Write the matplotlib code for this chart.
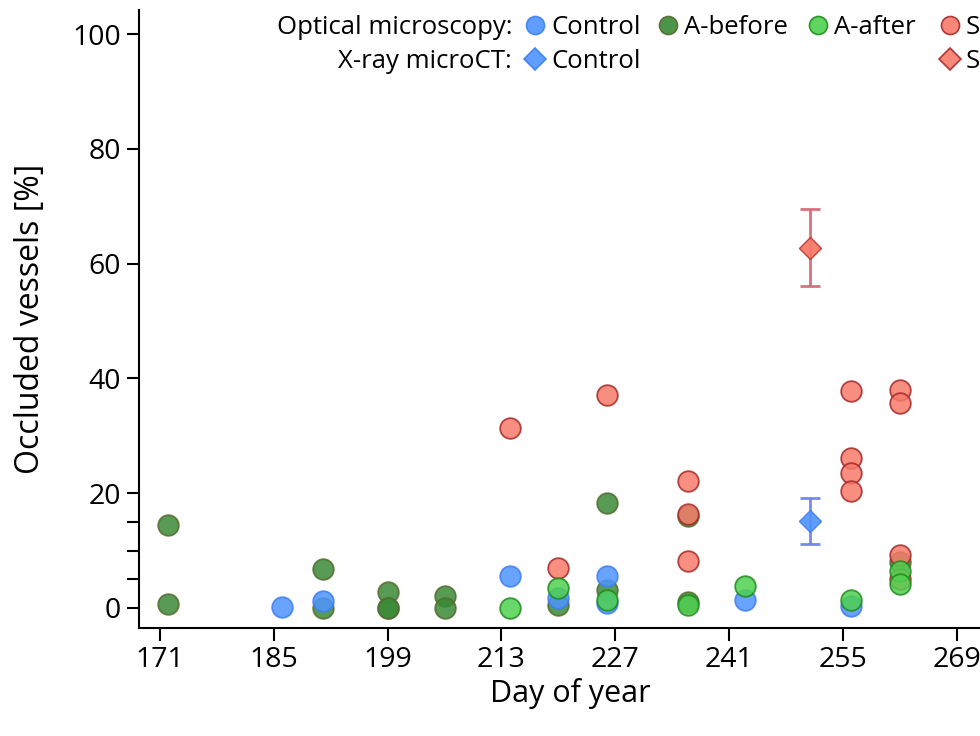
import numpy as np
import matplotlib.pyplot as plt
from matplotlib.lines import Line2D

plt.rcParams['font.family'] = ['Open Sans', 'DejaVu Sans']

# Optical microscopy (day of year, occluded vessels %)
control_day = [186, 191, 214, 220, 226, 226, 243, 256]
control_val = [0.2, 1.2, 5.6, 1.8, 5.6, 0.9, 1.3, 0.4]

before_day = [172, 172, 191, 191, 199, 199, 199, 206, 206, 220, 226, 226, 236, 236, 262]
before_val = [14.5, 0.7, 6.7, 0.0, 2.7, 0.0, 0.0, 2.1, 0.0, 0.6, 18.3, 3.2, 16.1, 1.1, 8.0]

after_day = [214, 220, 226, 236, 243, 256, 262, 262]
after_val = [0.0, 3.5, 1.4, 0.6, 3.9, 1.3, 6.5, 4.1]

s_day = [214, 220, 226, 236, 236, 236, 256, 256, 256, 256, 262, 262, 262, 262]
s_val = [31.3, 7.0, 37.1, 22.2, 16.4, 8.2, 37.8, 26.1, 23.6, 20.3, 38.0, 35.8, 9.3, 5.1]

# X-ray microCT (mean, error)
ct_control = (251, 15.2, 4.0)
ct_s = (251, 62.8, 6.7)

x_ticks = [171, 185, 199, 213, 227, 241, 255, 269]
y_ticks = [0, 5, 10, 15, 20, 40, 60, 80, 100]
y_labels = ["0", "", "", "", "20", "40", "60", "80", "100"]

c_blue, e_blue = "#4d94ff", "#3f7ff0"
c_dark, e_dark = "#3a8a36", "#556b2f"
c_light, e_light = "#4fd04f", "#1e8c1e"
c_red, e_red = "#f77a6a", "#a52a2a"

fig = plt.figure(figsize=(9.8, 7.36), dpi=100)
ax = fig.add_axes([0.1418, 0.1467, 0.88, 0.8397])

ms = 220
ax.scatter(before_day, before_val, s=ms, c=c_dark, edgecolors=e_dark, linewidths=1.3, alpha=0.85, zorder=3)
ax.scatter(control_day, control_val, s=ms, c=c_blue, edgecolors=e_blue, linewidths=1.3, alpha=0.85, zorder=4)
ax.scatter(s_day, s_val, s=ms, c=c_red, edgecolors=e_red, linewidths=1.3, alpha=0.85, zorder=5)
ax.scatter(after_day, after_val, s=ms, c=c_light, edgecolors=e_light, linewidths=1.3, alpha=0.85, zorder=6)

ax.errorbar(ct_control[0], ct_control[1], yerr=ct_control[2], fmt="D", ms=11,
            mfc=c_blue, mec=e_blue, ecolor="#6a7cf0", elinewidth=2, capsize=7,
            capthick=2, alpha=0.9, zorder=7)
ax.errorbar(ct_s[0], ct_s[1], yerr=ct_s[2], fmt="D", ms=11,
            mfc=c_red, mec="#c0392b", ecolor="#d46a78", elinewidth=2, capsize=7,
            capthick=2, alpha=0.95, zorder=7)

ax.set_xlim(168.4, 274.5)
ax.set_ylim(-3.5, 104.2)
ax.set_xticks(x_ticks)
ax.set_yticks(y_ticks)
ax.set_yticklabels(y_labels)
ax.tick_params(direction="out", length=9, width=1.5, labelsize=20.5, pad=4)
for side in ["top", "right"]:
    ax.spines[side].set_visible(False)
for side in ["left", "bottom"]:
    ax.spines[side].set_linewidth(1.5)

ax.set_xlabel("Day of year", fontsize=22, labelpad=3)
ax.set_ylabel("Occluded vessels [%]", fontsize=23, labelpad=18)

# legend drawn by hand (row labels + marker/label pairs)
W, H = 980.0, 736.0
def fx(px):
    return px / W
def fy(py):
    return 1 - py / H

rows = [("Optical microscopy:", 27), ("X-ray microCT:", 61)]
for txt, py in rows:
    fig.text(fx(512), fy(py), txt, ha="right", va="center", fontsize=18.5)

items = [
    (535, 25, "o", c_blue, e_blue, "Control"),
    (668, 25, "o", c_dark, e_dark, "A-before"),
    (818, 25, "o", c_light, e_light, "A-after"),
    (950, 25, "o", c_red, e_red, "S"),
    (535, 59, "D", c_blue, e_blue, "Control"),
    (950, 59, "D", c_red, e_red, "S"),
]
for px, py, mk, fc, ec, label in items:
    fig.add_artist(Line2D([fx(px)], [fy(py)], marker=mk, ms=13 if mk == "o" else 11.5,
                          mfc=fc, mec=ec, mew=1.2, alpha=0.9, ls="none",
                          transform=fig.transFigure))
    fig.text(fx(px + 16), fy(py + 2), label, ha="left", va="center", fontsize=18.5)

plt.savefig("out.png", dpi=100)
